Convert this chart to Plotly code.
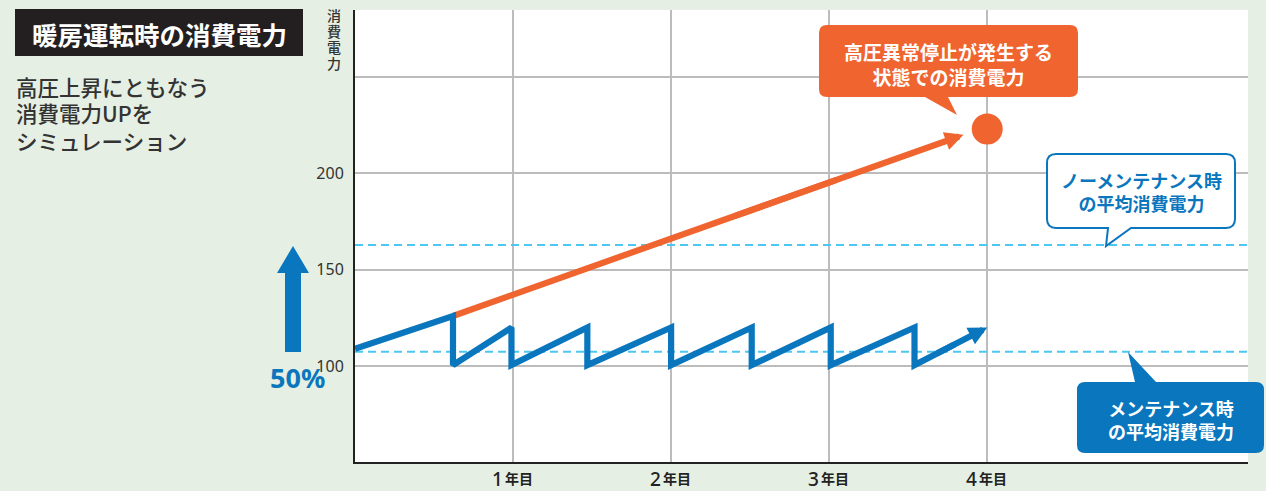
import plotly.graph_objects as go

# Power consumption index by elapsed years
maint_x = [0, 0.62, 0.62, 0.99, 0.99, 1.47, 1.47, 2.0, 2.0, 2.51, 2.51, 3.01, 3.01, 3.54, 3.54, 4.0]
maint_y = [109, 126, 100.5, 120, 100.5, 120, 100.5, 120, 100.5, 120, 100.5, 120, 100.5, 120, 100.5, 120]

nomaint_x = [0.62, 3.85]
nomaint_y = [126, 220]

stop_x = [4.0]
stop_y = [223]

avg_nomaint = 162.8
avg_maint = 107.4

year_ticks = [1, 2, 3, 4]
year_labels = ["1", "2", "3", "4"]
power_ticks = [100, 150, 200, 250]
power_labels = ["100", "150", "200", ""]

X_RANGE = [0, 5.65]
Y_RANGE = [50.2, 284.8]

BLUE = "#0a76bd"
ORANGE = "#f0642f"
LIGHT = "#4ec6f2"
BG = "#e5efe3"
JP = "Noto Sans CJK JP"
LW = 6.2

W, H = 1266, 491
M = dict(l=355, r=18, t=10, b=29)
PW = W - M["l"] - M["r"]
PH = H - M["t"] - M["b"]


def to_paper(px, py):
    return (px - M["l"]) / PW, (H - M["b"] - py) / PH


def pt(x, y):
    u, v = to_paper(x, y)
    return f"{u:.5f},{v:.5f}"


def callout_path(x0, y0, x1, y1, r, side, ba, bb, tip):
    d = [f"M{pt(x0 + r, y0)}"]
    if side == "top":
        d += [f"L{pt(ba, y0)}", f"L{pt(*tip)}", f"L{pt(bb, y0)}"]
    d += [f"L{pt(x1 - r, y0)}", f"Q{pt(x1, y0)} {pt(x1, y0 + r)}",
          f"L{pt(x1, y1 - r)}", f"Q{pt(x1, y1)} {pt(x1 - r, y1)}"]
    if side == "bottom":
        d += [f"L{pt(bb, y1)}", f"L{pt(*tip)}", f"L{pt(ba, y1)}"]
    d += [f"L{pt(x0 + r, y1)}", f"Q{pt(x0, y1)} {pt(x0, y1 - r)}",
          f"L{pt(x0, y0 + r)}", f"Q{pt(x0, y0)} {pt(x0 + r, y0)}", "Z"]
    return " ".join(d)


def along_last(xs, ys, frac):
    """Point part-way along the last segment of a polyline."""
    x0, y0, x1, y1 = xs[-2], ys[-2], xs[-1], ys[-1]
    return x0 + (x1 - x0) * frac, y0 + (y1 - y0) * frac


fig = go.Figure()

# average lines
for val in (avg_nomaint, avg_maint):
    fig.add_trace(go.Scatter(x=X_RANGE, y=[val, val], mode="lines",
                             line=dict(color=LIGHT, width=2, dash="8px,5px"),
                             hoverinfo="skip"))

# no-maintenance line (body as trace, the head part as an arrow that overlaps it)
o_end = along_last(nomaint_x, nomaint_y, 0.75)
o_tail = along_last(nomaint_x, nomaint_y, 0.55)
fig.add_trace(go.Scatter(x=nomaint_x[:-1] + [o_end[0]], y=nomaint_y[:-1] + [o_end[1]],
                         mode="lines", line=dict(color=ORANGE, width=LW), hoverinfo="skip"))

# maintained sawtooth line
b_end = along_last(maint_x, maint_y, 0.55)
b_tail = along_last(maint_x, maint_y, 0.3)
fig.add_trace(go.Scatter(x=maint_x[:-1] + [b_end[0]], y=maint_y[:-1] + [b_end[1]],
                         mode="lines", line=dict(color=BLUE, width=LW), hoverinfo="skip"))

# abnormal-stop point
fig.add_trace(go.Scatter(x=stop_x, y=stop_y, mode="markers",
                         marker=dict(color=ORANGE, size=31, line=dict(width=0)),
                         hoverinfo="skip"))

annotations = []
for (tx, ty, tail, col) in [(nomaint_x[-1], nomaint_y[-1], o_tail, ORANGE),
                            (maint_x[-1], maint_y[-1], b_tail, BLUE)]:
    annotations.append(dict(x=tx, y=ty, ax=tail[0], ay=tail[1], xref="x", yref="y",
                            axref="x", ayref="y", text="", showarrow=True,
                            arrowhead=2, arrowsize=0.6, arrowwidth=LW,
                            arrowcolor=col, standoff=0))

# year labels under the axis: large numeral + smaller bold 年目
label_v = to_paper(0, 479)[1]
for yr, txt in zip(year_ticks, year_labels):
    annotations.append(dict(x=yr, y=label_v, xref="x", yref="paper", text=txt,
                            showarrow=False, xanchor="right", yanchor="middle", xshift=-9,
                            borderpad=0,
                            font=dict(family="Noto Sans", size=19, color="#222222", weight=500)))
    annotations.append(dict(x=yr, y=label_v, xref="x", yref="paper", text="年目",
                            showarrow=False, xanchor="left", yanchor="middle", xshift=-9,
                            yshift=1, borderpad=0,
                            font=dict(family=JP, size=14, color="#222222", weight=700)))

shapes = []
# title block
shapes.append(dict(type="path", xref="paper", yref="paper",
                   path=f"M{pt(15, 9)} L{pt(303, 9)} L{pt(303, 56)} L{pt(15, 56)} Z",
                   fillcolor="#231f20", line=dict(width=0)))
# big up arrow
shapes.append(dict(type="path", xref="paper", yref="paper",
                   path=(f"M{pt(285, 352)} L{pt(285, 273)} L{pt(277, 273)} L{pt(293, 246)} "
                         f"L{pt(309, 273)} L{pt(301, 273)} L{pt(301, 352)} Z"),
                   fillcolor=BLUE, line=dict(width=0)))
# callouts
shapes.append(dict(type="path", xref="paper", yref="paper",
                   path=callout_path(819, 25, 1078, 97, 8, "bottom", 925, 948, (957, 115)),
                   fillcolor=ORANGE, line=dict(width=0)))
shapes.append(dict(type="path", xref="paper", yref="paper",
                   path=callout_path(1047, 154, 1235, 228, 9, "bottom", 1108, 1131, (1106, 246)),
                   fillcolor="white", line=dict(color=BLUE, width=2)))
shapes.append(dict(type="path", xref="paper", yref="paper",
                   path=callout_path(1077, 382, 1264, 453, 8, "top", 1135, 1156, (1128, 352)),
                   fillcolor=BLUE, line=dict(width=0)))


def label(px, py, text, size, color, weight=400, family=JP, anchor="center"):
    u, v = to_paper(px, py)
    annotations.append(dict(x=u, y=v, xref="paper", yref="paper", text=text,
                            showarrow=False, xanchor=anchor, yanchor="middle",
                            align=anchor if anchor != "center" else "center",
                            font=dict(family=family, size=size, color=color, weight=weight)))


label(159, 33, "暖房運転時の消費電力", 25.5, "white", 700)
label(14, 86, "高圧上昇にともなう", 21.5, "#333333", 500, anchor="left")
label(14, 113, "消費電力UPを", 21.5, "#333333", 500, anchor="left")
label(14, 141, "シミュレーション", 21.5, "#333333", 500, anchor="left")
for i, ch in enumerate("消費電力"):
    label(334, 15 + 16 * i, ch, 14, "#333333", 500)
label(297, 377, "50%", 27, BLUE, 700, family="Noto Sans")
label(948, 64, "高圧異常停止が発生する<br>状態での消費電力", 19, "white", 700)
label(1141, 191, "ノーメンテナンス時<br>の平均消費電力", 18, BLUE, 700)
label(1171, 419, "メンテナンス時<br>の平均消費電力", 18, "white", 700)

fig.update_layout(
    width=W, height=H, margin=M,
    paper_bgcolor=BG, plot_bgcolor="white",
    showlegend=False,
    shapes=shapes, annotations=annotations,
    xaxis=dict(range=X_RANGE, tickvals=year_ticks, showticklabels=False,
               showgrid=True, gridcolor="#bcbcbc", gridwidth=1.5,
               showline=True, linecolor="#222222", linewidth=2,
               ticks="", zeroline=False, automargin=False),
    yaxis=dict(range=Y_RANGE, tickvals=power_ticks, ticktext=power_labels,
               tickfont=dict(family="Noto Sans", size=16, color="#333333"),
               showgrid=True, gridcolor="#bcbcbc", gridwidth=1.5,
               showline=True, linecolor="#222222", linewidth=2,
               ticks="", zeroline=False, ticklabelstandoff=6, automargin=False),
)

fig.write_html("out.html")
